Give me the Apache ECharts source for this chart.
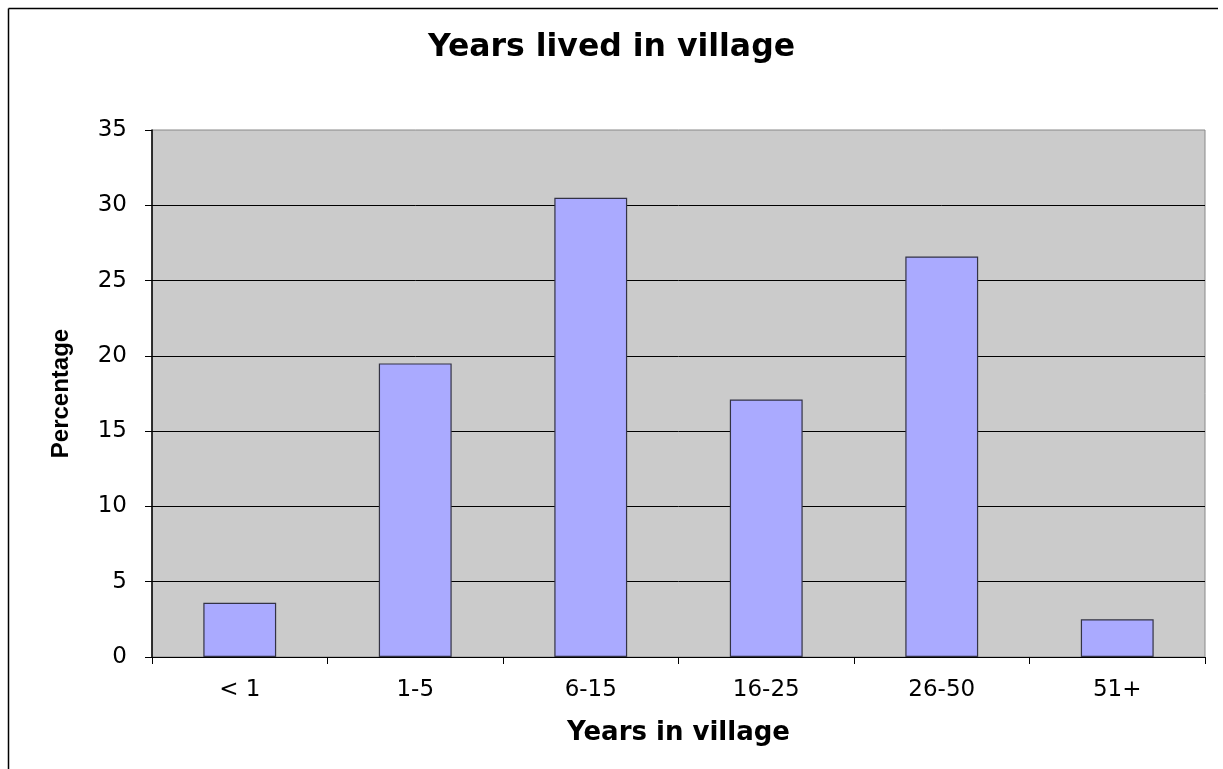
<!DOCTYPE html>
<html>
<head>
<meta charset="utf-8">
<script src="https://cdn.jsdelivr.net/npm/echarts@6/dist/echarts.min.js"></script>
<style>
html,body{margin:0;padding:0;background:#fff;}
#chart{width:1223px;height:769px;}
</style>
</head>
<body>
<div id="chart"></div>
<script>
const categories = ['< 1', '1-5', '6-15', '16-25', '26-50', '51+'];
const percentages = [3.6, 19.5, 30.5, 17.1, 26.6, 2.5];
const yTicks = { min: 0, max: 35, interval: 5 };

const FONT = '"DejaVu Sans", "Liberation Sans", Arial, sans-serif';

const chart = echarts.init(document.getElementById('chart'), null, { renderer: 'canvas' });
chart.setOption({
  animation: false,
  backgroundColor: '#ffffff',
  title: {
    text: 'Years lived in village',
    left: 'center',
    top: 27,
    textStyle: { fontFamily: FONT, fontSize: 31.5, fontWeight: 'bold', color: '#000' }
  },
  graphic: [
    { type: 'line', shape: { x1: 8.5, y1: 8.5, x2: 1218, y2: 8.5 }, style: { stroke: '#000', lineWidth: 1.5 } },
    { type: 'line', shape: { x1: 8.5, y1: 8.5, x2: 8.5, y2: 769 }, style: { stroke: '#000', lineWidth: 1.5 } }
  ],
  grid: {
    left: 152, right: 18, top: 130, bottom: 112,
    show: true, backgroundColor: '#cbcbcb', borderColor: '#888888', borderWidth: 1
  },
  xAxis: {
    type: 'category',
    data: categories,
    name: 'Years in village',
    nameLocation: 'middle',
    nameGap: 63,
    nameTextStyle: { fontFamily: FONT, fontSize: 26, fontWeight: 'bold', color: '#000' },
    axisLine: { lineStyle: { color: '#000', width: 1 } },
    axisTick: { show: true, length: 7, lineStyle: { color: '#000' } },
    axisLabel: { fontFamily: FONT, fontSize: 23, color: '#000', margin: 22 }
  },
  yAxis: {
    type: 'value',
    min: yTicks.min, max: yTicks.max, interval: yTicks.interval,
    name: 'Percentage',
    nameLocation: 'middle',
    nameGap: 79,
    nameRotate: 90,
    nameTextStyle: { fontFamily: '"Liberation Sans", Arial, sans-serif', fontSize: 24, fontWeight: 'bold', color: '#000' },
    axisLine: { show: true, lineStyle: { color: '#000', width: 1.5 } },
    axisTick: { show: true, length: 7, lineStyle: { color: '#000' } },
    axisLabel: { fontFamily: FONT, fontSize: 23, color: '#000', margin: 25 },
    splitLine: { show: true, showMaxLine: false, lineStyle: { color: '#000', width: 1 } }
  },
  series: [{
    type: 'bar',
    data: percentages,
    barWidth: '41.5%',
    itemStyle: { color: '#aaaaff', borderColor: '#333344', borderWidth: 1.2 }
  }]
});
</script>
</body>
</html>
